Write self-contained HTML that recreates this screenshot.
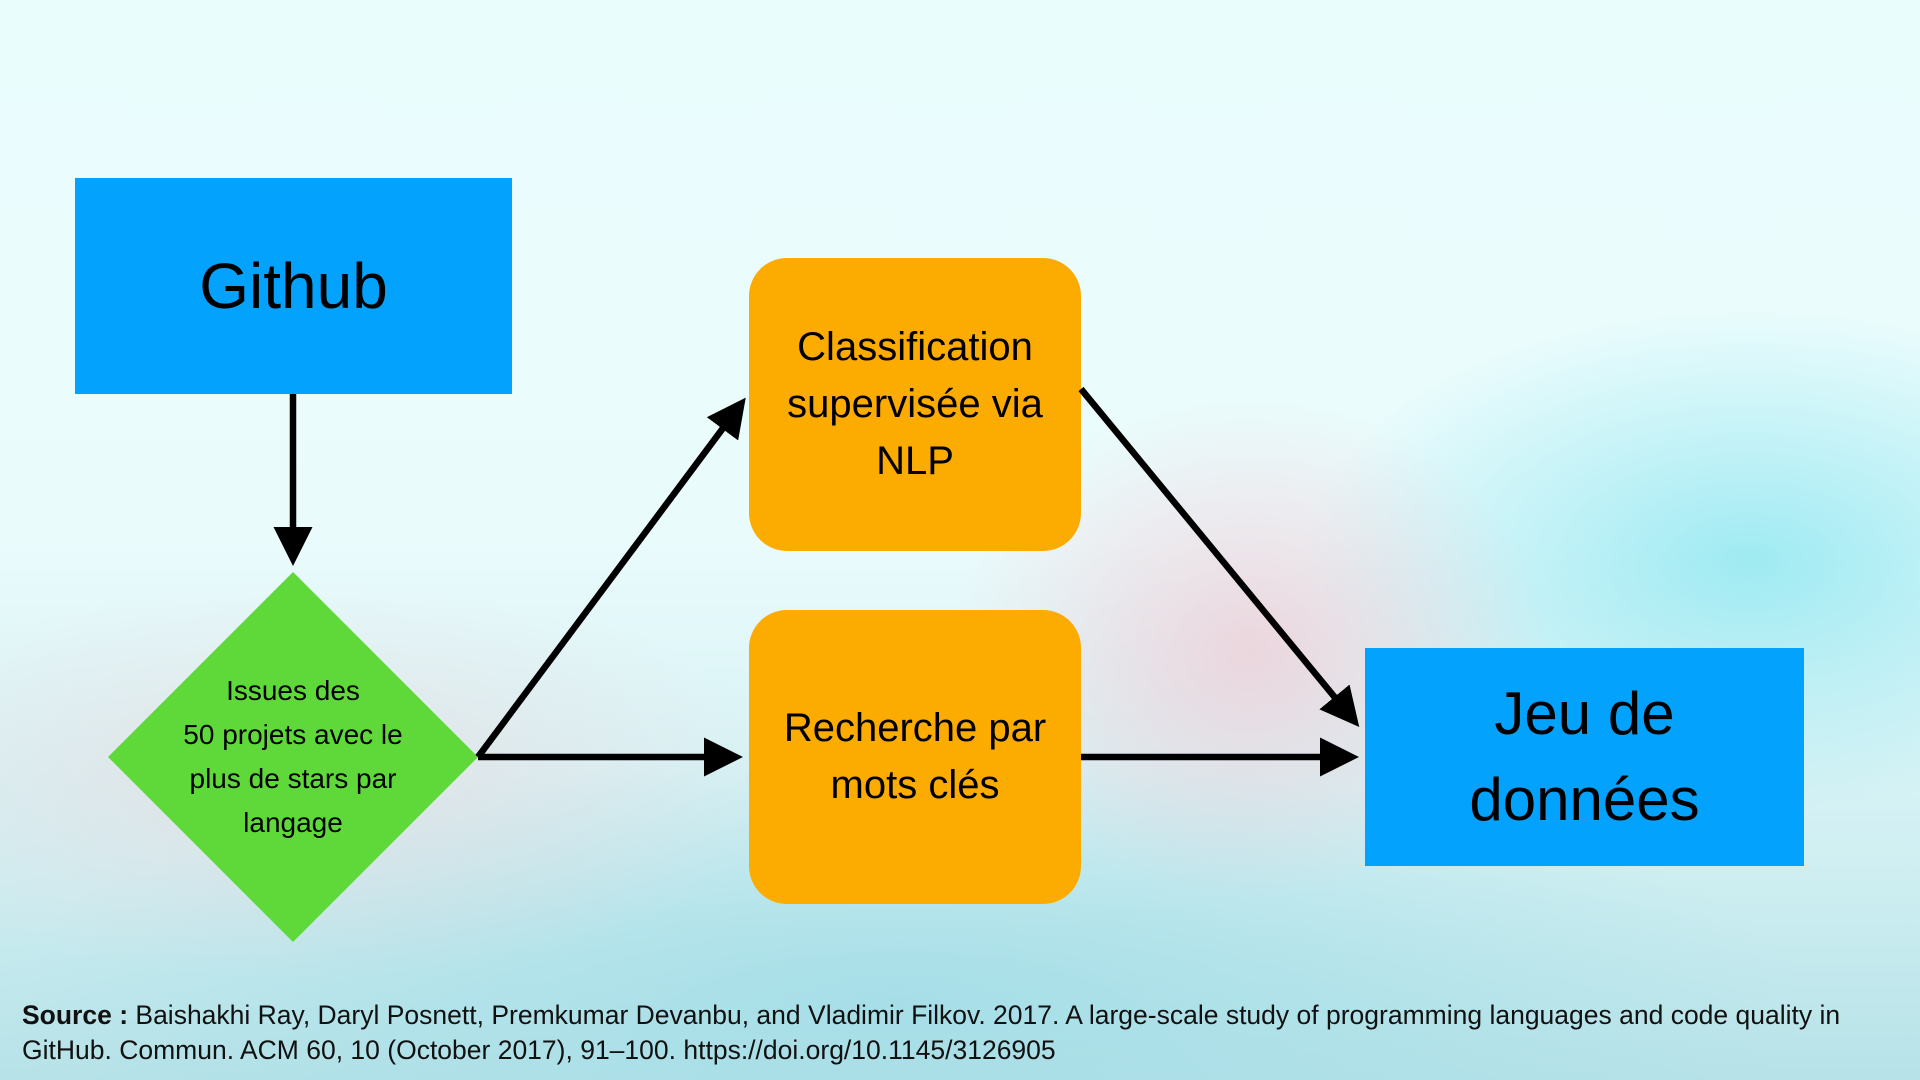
<!DOCTYPE html>
<html><head><meta charset="utf-8"><style>
html,body{margin:0;padding:0}
body{width:1920px;height:1080px;position:relative;overflow:hidden;font-family:"Liberation Sans",sans-serif;
background:
radial-gradient(ellipse 300px 250px at 1250px 650px, rgba(240,200,210,0.7), rgba(240,200,210,0) 100%),
radial-gradient(ellipse 450px 250px at 1750px 560px, rgba(140,230,240,0.8), rgba(140,230,240,0) 100%),
radial-gradient(ellipse 500px 200px at 300px 780px, rgba(235,215,220,0.6), rgba(235,215,220,0) 100%),
radial-gradient(ellipse 900px 250px at 900px 1000px, rgba(160,220,230,0.8), rgba(160,220,230,0) 100%),
linear-gradient(#eafdfd 0%, #eafbfc 50%, #cfeff2 80%, #b6e2e8 100%);}
.box{position:absolute;display:flex;align-items:center;justify-content:center;text-align:center;color:#000}
.blue{background:#03a2fd}
.orange{background:#fcab00;border-radius:38px;font-size:40px;line-height:57px}
svg{position:absolute;left:0;top:0}
.src{position:absolute;left:22px;top:998px;font-size:26.5px;line-height:35px;color:#111;width:1895px}
</style></head><body>
<div class="box blue" style="left:75px;top:178px;width:437px;height:216px;font-size:64px">Github</div>
<div class="box orange" style="left:749px;top:258px;width:332px;height:293px">Classification<br>supervisée via<br>NLP</div>
<div class="box orange" style="left:749px;top:610px;width:332px;height:294px">Recherche par<br>mots clés</div>
<div class="box blue" style="left:1365px;top:648px;width:439px;height:218px;font-size:60px;line-height:86px">Jeu de<br>données</div>
<svg width="1920" height="1080">
<defs><marker id="a" markerWidth="6" markerHeight="6" refX="4" refY="3" orient="auto" markerUnits="strokeWidth"><path d="M0,0 L6,3 L0,6 z" fill="#000"/></marker></defs>
<polygon points="293,572 478,757 293,942 108,757" fill="#5fd93a"/>
<g stroke="#000" stroke-width="6.5" fill="none">
<line x1="293" y1="394" x2="293" y2="553" marker-end="url(#a)"/>
<line x1="478" y1="757" x2="738" y2="408" marker-end="url(#a)"/>
<line x1="478" y1="757" x2="730" y2="757" marker-end="url(#a)"/>
<line x1="1081" y1="389" x2="1351" y2="717" marker-end="url(#a)"/>
<line x1="1081" y1="757" x2="1346" y2="757" marker-end="url(#a)"/>
</g>
<text x="293" y="700" font-family="Liberation Sans, sans-serif" font-size="28" text-anchor="middle">
<tspan x="293" dy="0">Issues des</tspan><tspan x="293" dy="44">50 projets avec le</tspan><tspan x="293" dy="44">plus de stars par</tspan><tspan x="293" dy="44">langage</tspan></text>
</svg>
<div class="src"><b>Source :</b> Baishakhi Ray, Daryl Posnett, Premkumar Devanbu, and Vladimir Filkov. 2017. A large-scale study of programming languages and code quality in<br>GitHub. Commun. ACM 60, 10 (October 2017), 91–100. https://doi.org/10.1145/3126905</div>
</body></html>
